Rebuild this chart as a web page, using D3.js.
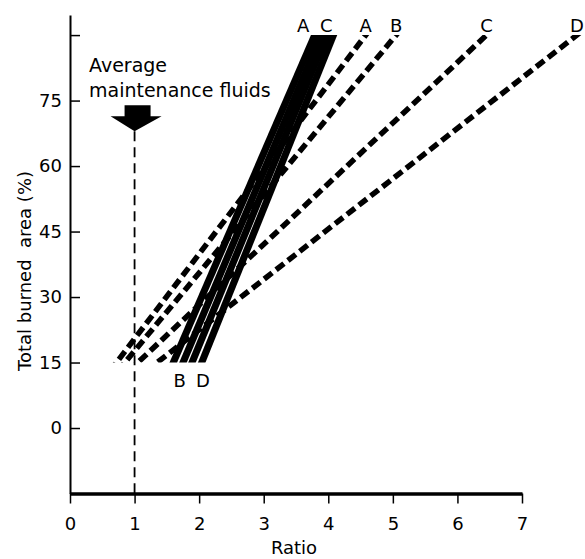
<!DOCTYPE html>
<html>
<head>
<meta charset="utf-8">
<script src="https://cdn.jsdelivr.net/npm/d3@7"></script>
<style>
	body { margin: 0; background: #fff; }
	svg { display: block; font-family: "DejaVu Sans", sans-serif; }
</style>
</head>
<body>
<div id="chart"></div>
<script>
// ratio at which each curve reaches 15% and 90% total burned area
var burnLow = 15;
var burnHigh = 90;
var solidNames = ["A", "B", "C", "D"];
var solidLow = [1.60, 1.75, 1.89, 2.04];
var solidHigh = [3.79, 3.89, 3.98, 4.08];
var dashedNames = ["A", "B", "C", "D"];
var dashedLow = [0.72, 0.85, 1.05, 1.35];
var dashedHigh = [4.58, 5.05, 6.45, 7.85];

// where the letters of the solid curves sit (ratio)
var solidTopLabels = [{ name: "A", x: 3.61 }, { name: "C", x: 3.97 }];
var solidBottomLabels = [{ name: "B", x: 1.70 }, { name: "D", x: 2.06 }];

var maintenanceRatio = 1;
var arrowLevel = 68;

var xTicks = [0, 1, 2, 3, 4, 5, 6, 7];
var yTicks = [0, 15, 30, 45, 60, 75, 90];
var yTickLabels = ["0", "15", "30", "45", "60", "75", ""];

var width = 585, height = 559;
var fontSize = 18;

var svg = d3.select("#chart").append("svg")
	.attr("width", width)
	.attr("height", height);

var x = d3.scaleLinear().domain([0, 7]).range([70, 522]);
var y = d3.scaleLinear().domain([-15, 94.6]).range([493.5, 15]);

// horizontal cut at 15% and 90%
svg.append("clipPath").attr("id", "band")
	.append("rect")
	.attr("x", 0)
	.attr("width", width)
	.attr("y", y(burnHigh))
	.attr("height", y(burnLow) - y(burnHigh));

function extended(lo, hi) {
	// stretch the segment a little past both ends, the clip trims it flat
	var k = (hi - lo) / (burnHigh - burnLow);
	return [[lo - 2 * k, burnLow - 2], [hi + 2 * k, burnHigh + 2]];
}

var line = d3.line()
	.x(function(d) { return x(d[0]); })
	.y(function(d) { return y(d[1]); });

var curves = svg.append("g").attr("clip-path", "url(#band)");

curves.selectAll(".dashed").data(dashedNames).enter().append("path")
	.attr("class", "dashed")
	.attr("fill", "none")
	.attr("stroke", "#000")
	.attr("stroke-width", 5.5)
	.attr("stroke-dasharray", "10,5")
	.attr("d", function(d, i) { return line(extended(dashedLow[i], dashedHigh[i])); });

curves.selectAll(".solid").data(solidNames).enter().append("path")
	.attr("class", "solid")
	.attr("fill", "none")
	.attr("stroke", "#000")
	.attr("stroke-width", 7)
	.attr("d", function(d, i) { return line(extended(solidLow[i], solidHigh[i])); });

// axes
var yAxis = svg.append("g")
	.attr("transform", "translate(" + x(0) + ",0)")
	.call(d3.axisLeft(y).tickValues(yTicks).tickSizeInner(-10).tickSizeOuter(0).tickPadding(8)
		.tickFormat(function(d, i) { return yTickLabels[i]; }));
yAxis.select(".domain").attr("stroke-width", 2);
yAxis.selectAll(".tick line").attr("stroke-width", 1.5);
yAxis.selectAll("text").attr("font-size", fontSize).attr("font-family", "DejaVu Sans").attr("fill", "#000");

var xAxis = svg.append("g")
	.attr("transform", "translate(0," + y(-15) + ")")
	.call(d3.axisBottom(x).tickValues(xTicks).tickSize(10).tickSizeOuter(0).tickPadding(14)
		.tickFormat(d3.format("d")));
xAxis.select(".domain").attr("stroke-width", 3.5);
xAxis.selectAll(".tick line").attr("stroke-width", 1.5);
xAxis.selectAll("text").attr("font-size", fontSize).attr("font-family", "DejaVu Sans").attr("fill", "#000");

svg.append("text")
	.attr("x", 294)
	.attr("y", 554)
	.attr("text-anchor", "middle")
	.attr("font-size", fontSize)
	.text("Ratio");

svg.append("text")
	.attr("transform", "translate(31,271) rotate(-90)")
	.attr("text-anchor", "middle")
	.attr("font-size", fontSize)
	.attr("xml:space", "preserve")
	.style("white-space", "pre")
	.text("Total burned  area (%)");

// average maintenance fluids marker
var ax = x(maintenanceRatio), ay = y(arrowLevel);

svg.append("line")
	.attr("x1", ax)
	.attr("x2", ax)
	.attr("y1", ay)
	.attr("y2", y(-15))
	.attr("stroke", "#000")
	.attr("stroke-width", 1.8)
	.attr("stroke-dasharray", "10,6");

svg.append("path")
	.attr("fill", "#000")
	.attr("d", "M" + ax + "," + ay +
		"L" + (ax - 24) + "," + (ay - 15) +
		"L" + (ax - 10) + "," + (ay - 15) +
		"L" + (ax - 10) + "," + (ay - 26) +
		"L" + (ax + 16) + "," + (ay - 26) +
		"L" + (ax + 16) + "," + (ay - 15) +
		"L" + (ax + 27) + "," + (ay - 15) + "Z");

var note = svg.append("text")
	.attr("font-size", 19);
note.append("tspan").attr("x", 89).attr("y", 72).text("Average");
note.append("tspan").attr("x", 89).attr("y", 97).text("maintenance fluids");

// curve letters
var letters = svg.append("g")
	.attr("font-size", fontSize)
	.attr("text-anchor", "middle");

letters.selectAll(".dash-label").data(dashedNames).enter().append("text")
	.attr("x", function(d, i) { return x(dashedHigh[i]); })
	.attr("y", y(burnHigh) - 3)
	.text(function(d) { return d; });

letters.selectAll(".top-label").data(solidTopLabels).enter().append("text")
	.attr("x", function(d) { return x(d.x); })
	.attr("y", y(burnHigh) - 3)
	.text(function(d) { return d.name; });

letters.selectAll(".bottom-label").data(solidBottomLabels).enter().append("text")
	.attr("x", function(d) { return x(d.x); })
	.attr("y", y(burnLow) + 24)
	.text(function(d) { return d.name; });
</script>
</body>
</html>
